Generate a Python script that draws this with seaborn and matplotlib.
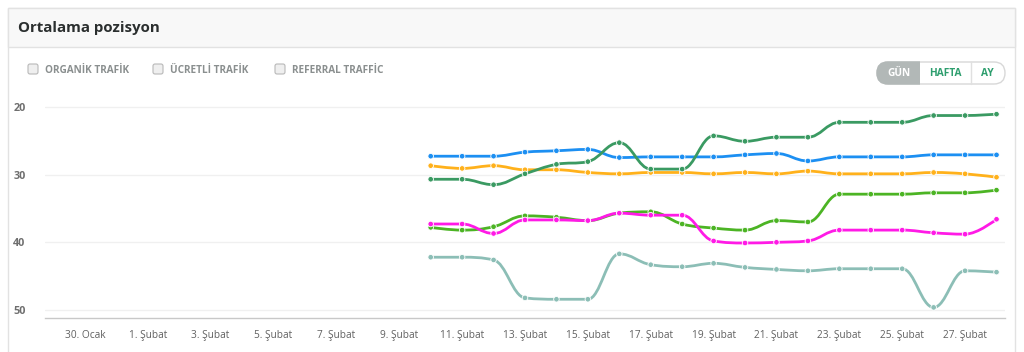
import matplotlib
matplotlib.use("Agg")
import matplotlib.pyplot as plt
from matplotlib.path import Path
from matplotlib.patches import PathPatch, FancyBboxPatch, Rectangle
import seaborn as sns
import pandas as pd

# ---------------- data ----------------
# day index: 0 = 30. Ocak, 2 = 1. Şubat, ... (one unit per day)
days = [11, 12, 13, 14, 15, 16, 17, 18, 19, 20, 21, 22, 23, 24, 25, 26, 27, 28, 29]
tick_days = [0, 2, 4, 6, 8, 10, 12, 14, 16, 18, 20, 22, 24, 26, 28]
tick_labels = ["30. Ocak", "1. Şubat", "3. Şubat", "5. Şubat", "7. Şubat", "9. Şubat",
               "11. Şubat", "13. Şubat", "15. Şubat", "17. Şubat", "19. Şubat",
               "21. Şubat", "23. Şubat", "25. Şubat", "27. Şubat"]

blue = [27.3, 27.3, 27.3, 26.7, 26.5, 26.3, 27.5, 27.4, 27.4, 27.4, 27.1, 26.9, 28.0, 27.4, 27.4, 27.4, 27.1, 27.1, 27.1]
orange = [28.7, 29.1, 28.7, 29.3, 29.3, 29.7, 29.9, 29.7, 29.7, 29.9, 29.7, 29.9, 29.5, 29.9, 29.9, 29.9, 29.7, 29.9, 30.4]
dark_green = [30.7, 30.7, 31.5, 29.9, 28.5, 28.1, 25.3, 29.2, 29.2, 24.3, 25.1, 24.5, 24.5, 22.3, 22.3, 22.3, 21.3, 21.3, 21.1]
light_green = [37.8, 38.2, 37.7, 36.1, 36.3, 36.8, 35.7, 35.5, 37.3, 37.9, 38.2, 36.8, 37.0, 32.9, 32.9, 32.9, 32.7, 32.7, 32.3]
magenta = [37.3, 37.3, 38.7, 36.7, 36.7, 36.8, 35.7, 36.0, 36.0, 39.8, 40.1, 40.0, 39.8, 38.2, 38.2, 38.2, 38.6, 38.8, 36.6]
teal = [42.2, 42.2, 42.6, 48.2, 48.4, 48.4, 41.7, 43.3, 43.6, 43.1, 43.7, 44.0, 44.2, 43.9, 43.9, 43.9, 49.6, 44.2, 44.4]

series = {"s1": blue, "s2": orange, "s3": dark_green, "s4": light_green, "s5": magenta, "s6": teal}
palette = {"s1": "#1c8ff2", "s2": "#ffb11b", "s3": "#3a9a62", "s4": "#4cb424", "s5": "#ff1ae6", "s6": "#8cbeb6"}

title = "Ortalama pozisyon"
checkbox_labels = ["ORGANİK TRAFİK", "ÜCRETLİ TRAFİK", "REFERRAL TRAFFİC"]
button_labels = ["GÜN", "HAFTA", "AY"]

rows = []
for name, vals in series.items():
    for d, v in zip(days, vals):
        rows.append({"day": d, "value": v, "series": name})
df = pd.DataFrame(rows)

# ---------------- figure ----------------
sns.set_theme(style="white")
plt.rcParams["font.family"] = ["Open Sans", "DejaVu Sans"]
BOLD = ["Open Sans", "DejaVu Sans"]
W, H = 1024, 352
fig = plt.figure(figsize=(W / 100, H / 100), dpi=100, facecolor="white")

# background/decor axes in pixel coordinates
bg = fig.add_axes([0, 0, 1, 1], zorder=0)
bg.set_xlim(0, W)
bg.set_ylim(H, 0)
bg.axis("off")

# card
bg.add_patch(Rectangle((8, 8), 1007, 360, facecolor="white", edgecolor="#e2e2e2", lw=1))
bg.add_patch(Rectangle((8, 8), 1007, 39, facecolor="#f8f8f8", edgecolor="#e2e2e2", lw=1))
bg.text(18, 28, title, fontsize=10.8, fontweight="bold", color="#2a2e2e",
        va="center", ha="left", family=BOLD)

# checkboxes
cb_x = [28, 153, 275]
for x, lab in zip(cb_x, checkbox_labels):
    bg.add_patch(FancyBboxPatch((x, 64), 10, 10, boxstyle="round,pad=0,rounding_size=2",
                                facecolor="#efefef", edgecolor="#b8b8b8", lw=0.8))
    bg.text(x + 17, 70.5, lab, fontsize=7.2, fontweight="bold", color="#8a8f8f",
            va="center", ha="left", family=BOLD)

# button group
bx0, bx1, by0, by1 = 877, 1005, 62, 84
pill = FancyBboxPatch((bx0, by0), bx1 - bx0, by1 - by0, boxstyle="round,pad=0,rounding_size=11",
                      facecolor="white", edgecolor="#d8d8d8", lw=1)
bg.add_patch(pill)
gray = FancyBboxPatch((bx0, by0), bx1 - bx0, by1 - by0, boxstyle="round,pad=0,rounding_size=11",
                      facecolor="#b2b8b7", edgecolor="#b2b8b7", lw=1)
bg.add_patch(gray)
clip = Rectangle((bx0 - 2, by0 - 2), 920 - bx0 + 2, by1 - by0 + 4, transform=bg.transData)
gray.set_clip_path(clip)
bg.plot([971, 971], [by0, by1], color="#e0e0e0", lw=1)
bg.text(898.5, 73, button_labels[0], fontsize=7.3, fontweight="bold", color="white",
        ha="center", va="center", family=BOLD)
bg.text(945.5, 73, button_labels[1], fontsize=7.3, fontweight="bold", color="#2e9e6e",
        ha="center", va="center", family=BOLD)
bg.text(987, 73, button_labels[2], fontsize=7.3, fontweight="bold", color="#2e9e6e",
        ha="center", va="center", family=BOLD)

# main plot axes
left_px, right_px, top_px, bottom_px = 45, 1005, 100, 317.7
ax = fig.add_axes([left_px / W, 1 - bottom_px / H, (right_px - left_px) / W,
                   (bottom_px - top_px) / H], zorder=2)
ax.patch.set_alpha(0)


def spline_path(xs, ys, smoothing=1.5):
    denom = smoothing + 1
    n = len(xs)
    lc = [None] * n
    rc = [None] * n
    for i in range(1, n - 1):
        x, y = xs[i], ys[i]
        px, py, nx, ny = xs[i - 1], ys[i - 1], xs[i + 1], ys[i + 1]
        lx = (smoothing * x + px) / denom
        ly = (smoothing * y + py) / denom
        rx = (smoothing * x + nx) / denom
        ry = (smoothing * y + ny) / denom
        if rx != lx:
            corr = ((ry - ly) * (rx - x)) / (rx - lx) + y - ry
            ly += corr
            ry += corr
        if ly > py and ly > y:
            ly = max(py, y)
            ry = 2 * y - ly
        elif ly < py and ly < y:
            ly = min(py, y)
            ry = 2 * y - ly
        if ry > ny and ry > y:
            ry = max(ny, y)
            ly = 2 * y - ry
        elif ry < ny and ry < y:
            ry = min(ny, y)
            ly = 2 * y - ry
        lc[i] = (lx, ly)
        rc[i] = (rx, ry)
    verts = [(xs[0], ys[0])]
    codes = [Path.MOVETO]
    for i in range(1, n):
        c1 = rc[i - 1] if rc[i - 1] is not None else (xs[i - 1], ys[i - 1])
        c2 = lc[i] if lc[i] is not None else (xs[i], ys[i])
        verts += [c1, c2, (xs[i], ys[i])]
        codes += [Path.CURVE4] * 3
    return Path(verts, codes)


for name, vals in series.items():
    ax.add_patch(PathPatch(spline_path(days, vals), facecolor="none",
                           edgecolor=palette[name], lw=2, zorder=3, capstyle="round"))

sns.scatterplot(data=df, x="day", y="value", hue="series", palette=palette, s=16,
                edgecolor="white", linewidth=0.6, legend=False, ax=ax, zorder=4)

ax.set_xlim(-1.27, 29.27)
ax.set_ylim(51.12, 19.01)
ax.set_yticks([20, 30, 40, 50])
ax.set_yticklabels(["20", "30", "40", "50"])
ax.set_xticks(tick_days)
ax.set_xticklabels(tick_labels)
ax.grid(axis="y", color="#f0f0f0", lw=1)
ax.grid(axis="x", visible=False)
ax.set_axisbelow(True)
for s in ["top", "left", "right"]:
    ax.spines[s].set_visible(False)
ax.spines["bottom"].set_color("#c8c8c8")
ax.spines["bottom"].set_linewidth(1)
ax.tick_params(axis="y", length=0, pad=14, labelsize=7.8, labelcolor="#6f6f6f")
ax.tick_params(axis="x", length=0, pad=9, labelsize=7.3, labelcolor="#606060")
for t in ax.get_yticklabels():
    t.set_fontweight("bold")
    t.set_family(BOLD)
ax.set_xlabel("")
ax.set_ylabel("")

fig.savefig("out.png", dpi=100, facecolor="white")
